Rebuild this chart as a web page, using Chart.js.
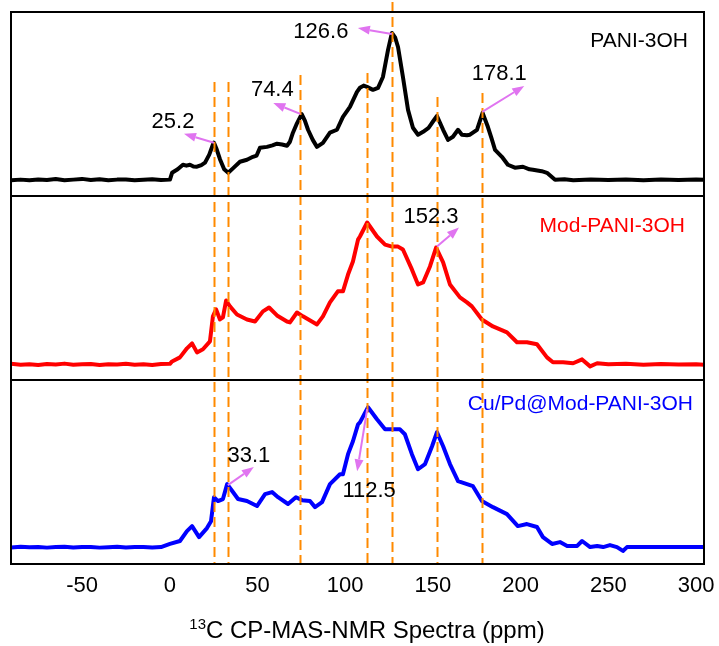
<!DOCTYPE html>
<html><head><meta charset="utf-8">
<script src="https://cdn.jsdelivr.net/npm/chart.js@4.4.1/dist/chart.umd.min.js"></script>
<style>html,body{margin:0;padding:0;background:#fff;} #wrap{width:719px;height:646px;}</style>
</head><body><div id="wrap"><canvas id="c" width="719" height="646"></canvas></div>
<script>
// ---------------- DATA ----------------
const xTicks = [-50, 0, 50, 100, 150, 200, 250, 300];
const seriesNames = ['PANI-3OH', 'Mod-PANI-3OH', 'Cu/Pd@Mod-PANI-3OH'];

const ppmTop = [-90.5,-85,-80,-75,-70,-65,-60,-55,-50,-45,-40,-35,-30,-25,-20,-15,-10,-5,0.1,1.3,4.5,7.5,9.5,11.5,13.5,15.5,18,20.1,22.5,24.6,25.2,26.5,28.6,31,33.3,36,40,44,47.4,49.5,51.4,55.4,58.5,61.1,64,66.8,68.5,70.2,72.5,75.2,77,78.8,81.5,83.9,87.3,91.3,95.3,98.7,102.7,106.7,108.4,110.5,112.4,115.8,118.7,121.5,124.4,126.6,128.5,130.1,132.9,135.8,138.6,141.5,144.4,147.5,149.5,152.3,155.8,158.6,161.4,164.3,166.5,169.4,171.1,175.1,178.3,181.3,183.5,185.4,189.3,192.7,196.7,201.3,205,207,212,215,219.6,225,230,240,250,260,270,280,290,300,304.5];
const intTop = [8.5,8.9,8.6,9.0,8.7,9.2,8.6,8.9,9.3,8.7,9.1,8.6,8.9,9.0,8.5,8.8,9.1,8.7,8.9,12.6,14.5,17.0,16.5,17.0,16.0,15.9,16.8,18.1,22.5,28.0,29.0,26.0,20.0,14.5,12.6,15.0,18.6,19.7,21.3,22.0,26.2,26.7,27.5,28.4,28.0,27.3,29.5,34.4,39.5,44.5,41.0,36.0,30.5,26.7,28.9,34.4,36.0,43.0,48.4,56.6,58.8,60.0,59.3,57.7,58.8,64.7,79.4,88.6,86.0,81.0,64.7,46.8,37.1,33.3,34.9,37.0,39.8,43.5,36.0,30.5,32.2,36.0,33.3,33.0,33.3,36.0,45.2,37.6,31.0,25.1,21.3,17.0,15.4,15.9,14.5,14.3,13.5,12.6,8.8,9.1,8.6,8.9,8.7,9.0,8.6,8.9,8.7,9.0,8.8];

const ppmMid = [-90.5,-85,-80,-75,-70,-65,-60,-55,-50,-45,-40,-35,-30,-25,-20,-15,-10,-5,0.1,1.3,5.8,9.8,12.7,15.5,18.9,22.9,24.6,26.4,28.6,30.3,32.1,34.3,38.3,44,48.6,53.1,56.6,61.1,66.8,68.5,72.5,75.9,83.9,87.3,91.3,95.8,98.7,101.6,104.4,107.3,108.4,112.5,118.1,122.7,126.7,130.1,132.9,138,141.5,144.4,148.3,151.8,155.8,159.7,165.4,169.4,172.2,177.9,184.2,192.2,197.9,203.6,209.3,215,218.4,224.2,229.9,235,239.6,243.6,250,260,270,280,290,300,304.5];
const intMid = [8.8,8.3,8.6,8.2,8.7,8.4,8.9,8.3,8.5,8.7,8.2,8.6,8.4,8.8,8.3,8.5,8.2,8.7,8.8,10.1,12.3,17.2,19.9,15.0,16.7,21.0,34.6,38.4,32.9,34.0,43.2,40.0,35.6,32.9,31.8,37.3,39.4,35.1,31.8,31.3,36.7,34.6,30.2,34.6,42.2,48.2,48.2,57.3,64.4,76.3,78.0,85.6,78.0,73.6,72.5,72.5,70.9,60.1,51.9,53.0,61.7,72.0,63.9,51.9,44.9,42.2,40.0,32.9,29.1,25.9,20.5,20.5,19.4,12.3,9.6,9.6,9.1,11.2,7.4,9.1,8.5,8.8,8.3,8.7,8.4,8.6,8.3];

const ppmBot = [-90.5,-85,-80,-75,-70,-65,-60,-55,-50,-45,-40,-35,-30,-25,-20,-15,-10,-5,0.1,5.8,9.8,12.7,16.7,21.2,23.5,25.2,27.5,30.3,32.7,36,38.9,44,49.7,54.3,58.3,61.7,67.4,71.9,75.4,79.9,82.8,86.8,91.3,97,98.7,101.6,104.4,107.3,108.4,113,118.1,122.7,126.7,131.2,134,138,141.5,145.5,149.5,152.3,155.8,159.7,164.3,169.4,172.8,177.9,184.2,192.2,198.4,203.6,209.3,212.7,217.9,222.4,226.5,232.2,235,239.6,243.6,247,250.9,254.9,258.3,260.6,270,304.5];
const intBot = [9.0,9.4,9.1,9.3,8.9,9.2,9.4,9.0,9.2,9.3,8.9,9.1,9.4,9.0,9.2,9.3,9.0,9.2,10.9,12.5,17.9,20.6,14.6,19.5,23.3,36.3,34.2,35.3,43.4,39.1,35.3,34.2,31.5,38.0,39.1,36.3,32.6,36.3,34.7,34.2,30.9,33.6,43.4,48.8,48.8,59.7,66.7,75.9,77.0,85.2,78.7,73.2,73.2,73.2,70.5,59.7,51.5,54.3,64.0,71.6,64.0,54.3,45.0,43.4,42.3,34.2,30.9,27.1,20.6,21.7,20.1,14.6,10.9,11.9,9.8,9.8,12.5,9.2,9.8,9.2,10.3,9.2,7.1,9.2,9.2,9.2];

const peakLabels = ['25.2', '74.4', '126.6', '178.1', '152.3', '33.1', '112.5'];
const peakPpm    = [25.2, 74.4, 126.6, 178.1, 152.3, 33.1, 112.5];
const peakPanel  = [0, 0, 0, 0, 1, 2, 2];        // 0 = top, 1 = middle, 2 = bottom
const peakInt    = [28.9, 44.6, 88.0, 45.7, 72.5, 42.9, 84.1];
const markerPpm  = [25.2, 33.1, 74.4, 112.5, 126.6, 152.3, 178.1];

// ---------------- STYLE ----------------
const FONT = "Arial, 'Liberation Sans', Helvetica, sans-serif";
const colors = ['#000000', '#FF0000', '#0000FF'];
const panelOffset = [200, 100, 0];
const ARROW = '#E074F0';
const ORANGE = '#FF8A00';
const markerTop = [262.0, 262.0, 265.8, 266.8, 305.4, 253.8, 256.0];
const annoOff = [
  {hx:-30, hy:-9,  tx:-41, ty:-21},
  {hx:-27, hy:-11, tx:-28, ty:-24},
  {hx:-34, hy:-6,  tx:-71, ty:-2},
  {hx:42,  hy:-26, tx:17,  ty:-38},
  {hx:22,  hy:-19, tx:-6,  ty:-30},
  {hx:26,  hy:-18, tx:21,  ty:-29},
  {hx:-10, hy:62,  tx:2,   ty:82}
];
const nameStyle = [
  {xr: 688, yb: 47, size: 21},
  {xr: 685, yb: 232, size: 21},
  {xr: 693, yb: 410, size: 21}
];

function mk(ppm, ints, off) { return ppm.map((p, i) => ({x: p, y: ints[i] + off})); }

const datasets = [
  {label: seriesNames[0], data: mk(ppmTop, intTop, panelOffset[0]), borderColor: colors[0]},
  {label: seriesNames[1], data: mk(ppmMid, intMid, panelOffset[1]), borderColor: colors[1]},
  {label: seriesNames[2], data: mk(ppmBot, intBot, panelOffset[2]), borderColor: colors[2]}
].map(d => Object.assign(d, {borderWidth: 4, pointRadius: 0, tension: 0, fill: false, borderJoinStyle: 'round', borderCapStyle: 'round'}));

function drawArrow(ctx, x1, y1, x2, y2) {
  const a = Math.atan2(y2 - y1, x2 - x1), L = 12, W = 4.5;
  const bx = x2 - L * Math.cos(a), by = y2 - L * Math.sin(a);
  ctx.beginPath(); ctx.moveTo(x1, y1); ctx.lineTo(bx, by); ctx.stroke();
  ctx.beginPath(); ctx.moveTo(x2, y2);
  ctx.lineTo(bx + W * Math.sin(a), by - W * Math.cos(a));
  ctx.lineTo(bx - W * Math.sin(a), by + W * Math.cos(a));
  ctx.closePath(); ctx.fill();
}

const decor = {
  id: 'decor',
  afterDatasetsDraw(chart) {
    const ctx = chart.ctx, xs = chart.scales.x, ys = chart.scales.y, ca = chart.chartArea;
    ctx.save();
    ctx.strokeStyle = ORANGE; ctx.lineWidth = 2; ctx.setLineDash([10, 5]);
    markerPpm.forEach((p, i) => {
      const x = Math.round(xs.getPixelForValue(p)) + 0.5;
      ctx.beginPath(); ctx.moveTo(x, ys.getPixelForValue(markerTop[i])); ctx.lineTo(x, ca.bottom); ctx.stroke();
    });
    ctx.setLineDash([]);
    ctx.strokeStyle = '#000'; ctx.lineWidth = 2;
    ctx.strokeRect(ca.left, ca.top, ca.right - ca.left, ca.bottom - ca.top);
    [100, 200].forEach(v => {
      const y = ys.getPixelForValue(v);
      ctx.beginPath(); ctx.moveTo(ca.left, y); ctx.lineTo(ca.right, y); ctx.stroke();
    });
    ctx.strokeStyle = ARROW; ctx.fillStyle = ARROW; ctx.lineWidth = 2;
    peakPpm.forEach((p, i) => {
      const x = xs.getPixelForValue(p), y = ys.getPixelForValue(peakInt[i] + panelOffset[peakPanel[i]]);
      const o = annoOff[i];
      drawArrow(ctx, x, y, x + o.hx, y + o.hy);
    });
    ctx.fillStyle = '#000'; ctx.font = '22px ' + FONT; ctx.textAlign = 'center'; ctx.textBaseline = 'middle';
    peakPpm.forEach((p, i) => {
      const x = xs.getPixelForValue(p), y = ys.getPixelForValue(peakInt[i] + panelOffset[peakPanel[i]]);
      const o = annoOff[i];
      ctx.fillText(peakLabels[i], x + o.tx, y + o.ty);
    });
    ctx.textAlign = 'right'; ctx.textBaseline = 'alphabetic';
    seriesNames.forEach((n, i) => {
      ctx.fillStyle = colors[i]; ctx.font = nameStyle[i].size + 'px ' + FONT;
      ctx.fillText(n, nameStyle[i].xr, nameStyle[i].yb);
    });
    ctx.restore();
  },
  afterDraw(chart) {
    const ctx = chart.ctx, ca = chart.chartArea;
    ctx.save();
    ctx.fillStyle = '#000'; ctx.textBaseline = 'alphabetic'; ctx.textAlign = 'left';
    const sup = '13', main = 'C CP-MAS-NMR Spectra (ppm)';
    ctx.font = '15px ' + FONT; const w1 = ctx.measureText(sup).width;
    ctx.font = '24px ' + FONT; const w2 = ctx.measureText(main).width;
    const cx = 367;
    const x0 = cx - (w1 + w2) / 2, yb = 638;
    ctx.font = '15px ' + FONT; ctx.fillText(sup, x0, yb - 9);
    ctx.font = '24px ' + FONT; ctx.fillText(main, x0 + w1, yb);
    ctx.restore();
  }
};

new Chart(document.getElementById('c'), {
  type: 'line',
  data: {datasets},
  options: {
    responsive: false, animation: false, events: [],
    layout: {padding: {left: 11, right: 15, top: 12, bottom: 0}},
    plugins: {legend: {display: false}, tooltip: {enabled: false}},
    scales: {
      x: {
        type: 'linear', min: -90.5, max: 304.5,
        grid: {display: false, drawTicks: false}, border: {display: false},
        afterBuildTicks: s => { s.ticks = xTicks.map(v => ({value: v})); },
        afterFit: s => { s.height = 82; s.paddingLeft = 0; s.paddingRight = 0; },
        ticks: {font: {size: 22, family: FONT}, color: '#000', padding: 9, maxRotation: 0, autoSkip: false}
      },
      y: {min: 0, max: 300, display: false}
    }
  },
  plugins: [decor]
});
</script>
</body></html>
